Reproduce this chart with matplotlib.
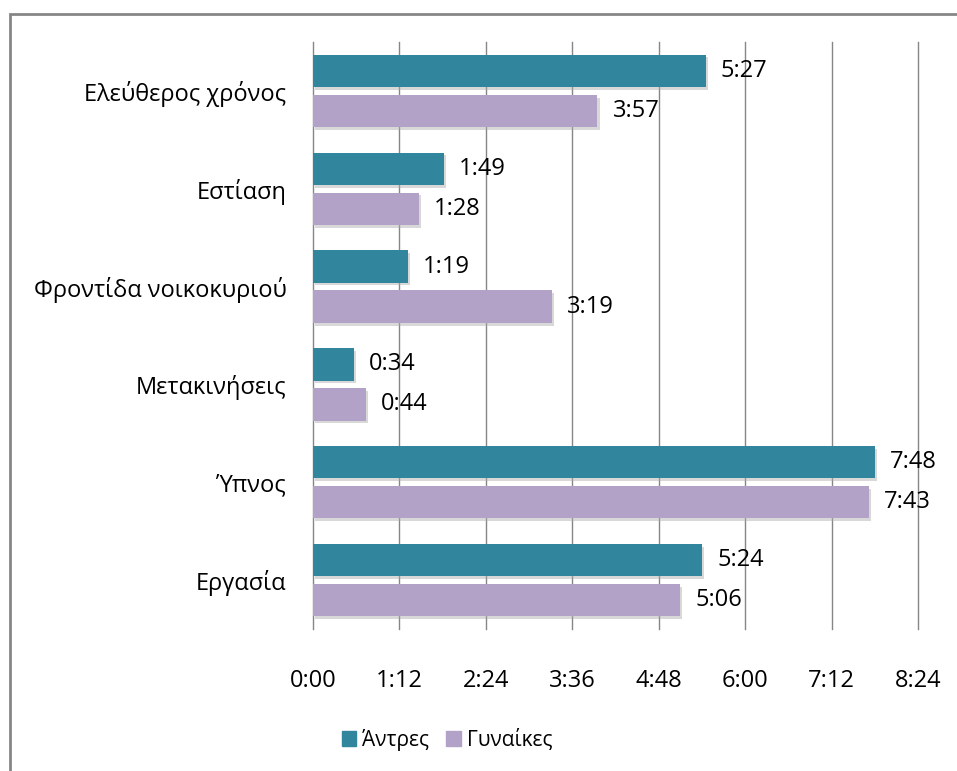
import matplotlib.pyplot as plt
import matplotlib.patheffects as pe
from matplotlib.patches import Rectangle, Patch
import numpy as np

# Time use per day (minutes), bottom category first
categories = ['Εργασία', 'Ύπνος', 'Μετακινήσεις', 'Φροντίδα νοικοκυριού', 'Εστίαση', 'Ελεύθερος χρόνος']
men = [324, 468, 34, 79, 109, 327]
women = [306, 463, 44, 199, 88, 237]
series_names = ['Άντρες', 'Γυναίκες']
colors = ['#31859C', '#B2A2C7']
xticks = [0, 72, 144, 216, 288, 360, 432, 504]


def fmt(m):
    return '%d:%02d' % (m // 60, m % 60)


plt.rcParams['font.family'] = ['Open Sans', 'DejaVu Sans']
fs = 17

fig = plt.figure(figsize=(9.57, 7.71), dpi=100)
ax = fig.add_axes([313 / 957, 1 - 629 / 771, (918 - 313) / 957, (629 - 42) / 771])

y = np.arange(len(categories))
h = 0.33
off = 0.205
shadow = [pe.SimplePatchShadow(offset=(1.5, -2), shadow_rgbFace='#aaaaaa', alpha=0.45), pe.Normal()]

b1 = ax.barh(y + off, men, height=h, color=colors[0], zorder=3)
b2 = ax.barh(y - off, women, height=h, color=colors[1], zorder=3)
for bars, vals in ((b1, men), (b2, women)):
    for bar, v in zip(bars, vals):
        bar.set_path_effects(shadow)
        ax.annotate(fmt(v), (v, bar.get_y() + bar.get_height() / 2), xytext=(11, 0),
                    textcoords='offset points', va='center', ha='left', fontsize=fs, color='black')

ax.set_xlim(0, 504)
ax.set_ylim(-0.5, len(categories) - 0.5)
ax.set_xticks(xticks)
ax.set_xticklabels([fmt(t) for t in xticks], fontsize=fs)
ax.set_yticks(y)
ax.set_yticklabels(categories, fontsize=fs)
ax.tick_params(axis='both', length=0, colors='black')
ax.tick_params(axis='x', pad=29)
ax.tick_params(axis='y', pad=19)
ax.grid(axis='x', color='#868686', linewidth=1, zorder=0)
for gl in ax.get_xgridlines():
    gl.set_clip_on(False)
ax.set_axisbelow(True)
for s in ax.spines.values():
    s.set_visible(False)

handles = [Patch(color=c, label=n) for c, n in zip(colors, series_names)]
fig.legend(handles=handles, loc='center', bbox_to_anchor=(447 / 957, 1 - 740 / 771), ncol=2,
           frameon=False, fontsize=15, handlelength=0.7, handleheight=0.7, handletextpad=0.3,
           columnspacing=0.8)

fig.patches.append(Rectangle((10 / 957, -0.1), 1.2, 1 - 14 / 771 + 0.1, transform=fig.transFigure,
                             fill=False, edgecolor='#868686', linewidth=2))

fig.savefig('out.png', dpi=100)
